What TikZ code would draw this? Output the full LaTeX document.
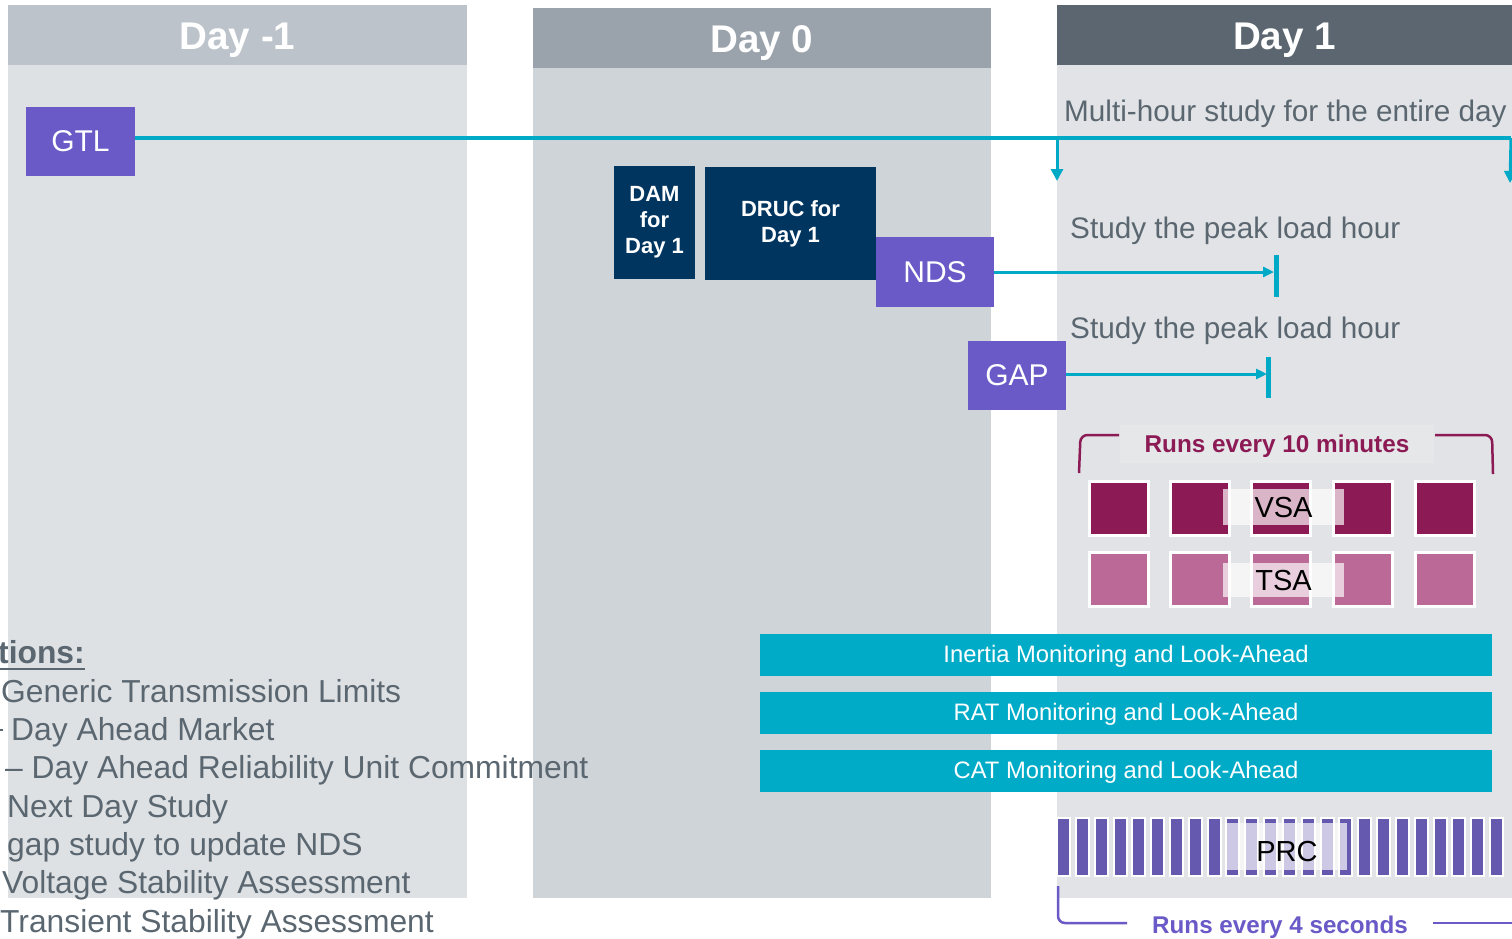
\documentclass[tikz,border=0pt]{standalone}
\usepackage{fontspec}
\setmainfont{Liberation Sans}
\usetikzlibrary{arrows.meta}
\definecolor{hdA}{HTML}{BCC3CA}
\definecolor{bodyA}{HTML}{DEE1E4}
\definecolor{hdB}{HTML}{9AA3AC}
\definecolor{bodyB}{HTML}{CFD4D8}
\definecolor{hdC}{HTML}{5B6670}
\definecolor{bodyC}{HTML}{E1E3E6}
\definecolor{purp}{HTML}{6A5AC8}
\definecolor{navy}{HTML}{003560}
\definecolor{cyanl}{HTML}{00A9C6}
\definecolor{cyanb}{HTML}{00ABC7}
\definecolor{maroon}{HTML}{8C1A55}
\definecolor{pinkl}{HTML}{BB6A98}
\definecolor{prcbar}{HTML}{6459AE}
\definecolor{txtgrey}{HTML}{5B6770}
\definecolor{bgl}{HTML}{E6E7E9}
\tikzset{
  hdtext/.style={text=white, font=\fontsize{38.6}{44}\selectfont\bfseries, inner sep=0pt, anchor=base},
  pbox/.style={fill=purp, text=white, font=\fontsize{30}{36}\selectfont, inner sep=0pt},
  nbox/.style={fill=navy, text=white, font=\fontsize{22}{26}\selectfont\bfseries, inner sep=0pt, align=center},
  graytext/.style={text=txtgrey, font=\fontsize{29.7}{36}\selectfont, inner sep=0pt, anchor=base west},
  legtext/.style={text=txtgrey, font=\fontsize{31.8}{38}\selectfont, inner sep=0pt, anchor=base west},
  cline/.style={draw=cyanl, line width=3.5pt},
  sline/.style={draw=cyanl, line width=3pt},
  endbar/.style={draw=cyanl, line width=5pt},
  sqd/.style={fill=maroon, draw=white, line width=3pt, minimum width=59pt, minimum height=54pt, inner sep=0pt},
  sql/.style={fill=pinkl, draw=white, line width=3pt, minimum width=59pt, minimum height=54pt, inner sep=0pt},
  ovl/.style={fill=white, fill opacity=0.68, text opacity=1, text=black, font=\fontsize{29}{34}\selectfont, inner sep=0pt, text height=20.8pt, text depth=0pt},
  cbar/.style={fill=cyanb, text=white, font=\fontsize{23.8}{28}\selectfont, minimum width=732pt, minimum height=42pt, inner sep=0pt, text height=16.8pt, text depth=0pt},
  pbar/.style={fill=prcbar, draw=white, line width=2pt, minimum width=13pt, minimum height=58pt, inner sep=0pt},
}
\begin{document}
\begin{tikzpicture}[x=1pt,y=-1pt]
\useasboundingbox (0,0) rectangle (1512,938);
\fill[white] (0,0) rectangle (1512,938);
% panels
\fill[hdA] (8,5) rectangle (467,65);
\fill[bodyA] (8,65) rectangle (467,898);
\fill[hdB] (533,8) rectangle (991,68);
\fill[bodyB] (533,68) rectangle (991,898);
\fill[hdC] (1057,5) rectangle (1512,65);
\fill[bodyC] (1057,65) rectangle (1512,898);
\node[hdtext] (h1) at (237.5,49) {Day -1};
\node[hdtext] (h2) at (762,52) {Day 0};
\node[hdtext] (h3) at (1284.5,49) {Day 1};

% GTL and multi-hour line
\node[pbox, minimum width=109pt, minimum height=69pt] (GTL) at (80.5,141.5) {GTL};
\coordinate (gtlend) at (1511,138);
\coordinate (dl) at (1057,138);
\coordinate (dlt) at (1057,181);
\coordinate (drt) at (1510,183);
\draw[cline] ([yshift=3.5pt]GTL.east) -- (gtlend);
\draw[sline, -{Triangle[width=12pt,length=12pt]}] (dl) -- (dlt);
\draw[sline, -{Triangle[width=12pt,length=12pt]}] (gtlend) -- (drt);
\node[graytext] (multi) at (1064,121) {Multi-hour study for the entire day};

% Day 0 boxes
\node[nbox, minimum width=81pt, minimum height=113pt] (DAM) at (654.5,222.5) {DAM\\for\\Day 1};
\node[nbox, minimum width=171pt, minimum height=113pt] (DRUC) at (790.5,223.5) {DRUC for\\Day 1};
\node[pbox, minimum width=118pt, minimum height=70pt] (NDS) at (935,272) {NDS};
\node[pbox, minimum width=98pt, minimum height=69pt] (GAP) at (1017,375.5) {GAP};

% NDS and GAP arrows
\node[graytext] (s1) at (1070,238) {Study the peak load hour};
\node[graytext] (s2) at (1070,338) {Study the peak load hour};
\coordinate (ndsend) at (1274,272);
\coordinate (gapend) at (1267,374);
\draw[sline, -{Triangle[width=10pt,length=11pt]}] (NDS.east) -- (ndsend);
\draw[endbar] (1276,255) -- (1276,297);
\draw[sline, -{Triangle[width=10pt,length=11pt]}] ([yshift=1.5pt]GAP.east) -- (gapend);
\draw[endbar] (1268.5,357) -- (1268.5,398);

% Runs every 10 minutes
\node[fill=bgl, minimum width=314pt, minimum height=38pt, inner sep=0pt, text=maroon, font=\fontsize{24.3}{28}\selectfont\bfseries, text height=17.4pt, text depth=0pt] (r10) at (1277,444) {Runs every 10 minutes};
\draw[maroon, line width=2.5pt, rounded corners=7pt] (1079,473) -- (1080.5,435) -- (1119,435);
\draw[maroon, line width=2.5pt, rounded corners=7pt] (1435,435) -- (1492,435) -- (1493,474);
\foreach \x [count=\i] in {1118.5,1199.5,1281,1362.5,1444.5} {
  \node[sqd] (v\i) at (\x,508.5) {};
  \node[sql] (t\i) at (\x,579) {};
}
\node[ovl, minimum width=121pt, minimum height=36pt] (VSA) at (1283.5,507) {VSA};
\node[ovl, minimum width=121pt, minimum height=34pt] (TSA) at (1283.5,580) {TSA};

% monitoring bars
\node[cbar] (inertia) at (1126,654.5) {Inertia Monitoring and Look-Ahead};
\node[cbar] (rat) at (1126,712.5) {RAT Monitoring and Look-Ahead};
\node[cbar] (cat) at (1126,770.5) {CAT Monitoring and Look-Ahead};

% PRC
\foreach \i in {0,...,23} {
  \node[pbar] (p\i) at ({1063.5+\i*18.83},847) {};
}
\node[ovl, fill opacity=0.68, minimum width=120pt, minimum height=47pt, text height=29.5pt] (PRC) at (1287,846.5) {PRC};
\draw[purp, line width=2.5pt, rounded corners=7pt] (1058,886) -- (1058,923) -- (1127,923);
\draw[purp, line width=2.5pt] (1433,923) -- (1512,923);
\node[anchor=base, inner sep=0pt, text=purp, font=\fontsize{24.2}{28}\selectfont\bfseries] (r4) at (1280,933) {Runs every 4 seconds};

% legend
\node[legtext, font=\fontsize{31.8}{38}\selectfont\bfseries] (leg0) at (-2,663) {tions:};
\draw[txtgrey, line width=2.2pt] ([yshift=-6pt]leg0.base west) -- ([yshift=-6pt]leg0.base east);
\node[legtext] (leg1) at (1,702) {Generic Transmission Limits};
\draw[txtgrey, line width=2.2pt] (0,730) -- (3,730);
\node[legtext] (leg2) at (11,740) {Day Ahead Market};
\node[legtext] (leg3) at (5,778) {– Day Ahead Reliability Unit Commitment};
\node[legtext] (leg4) at (7,817) {Next Day Study};
\node[legtext] (leg5) at (7,855) {gap study to update NDS};
\node[legtext] (leg6) at (2,893) {Voltage Stability Assessment};
\node[legtext] (leg7) at (0,932) {Transient Stability Assessment};
\end{tikzpicture}
\end{document}
